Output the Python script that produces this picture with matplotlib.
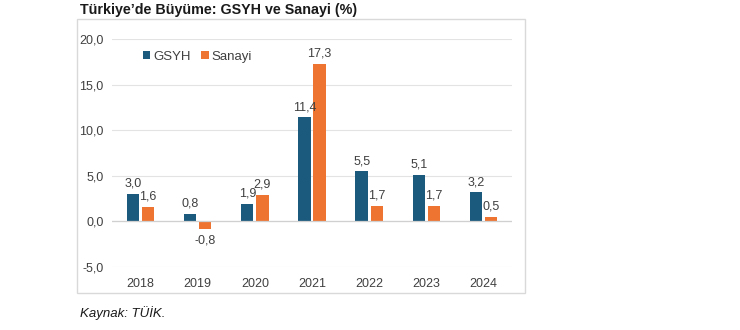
import matplotlib.pyplot as plt
import matplotlib.patches as patches
import numpy as np

plt.rcParams['font.family'] = ['Liberation Sans', 'DejaVu Sans']

years = ["2018", "2019", "2020", "2021", "2022", "2023", "2024"]
gsyh = [3.0, 0.8, 1.9, 11.4, 5.5, 5.1, 3.2]
sanayi = [1.6, -0.8, 2.9, 17.3, 1.7, 1.7, 0.5]

colGsyh = "#1c5a7d"
colSanayi = "#ed7431"

fig = plt.figure(figsize=(7.4, 3.3), dpi=100)
ax = fig.add_axes([0.1514, 0.1909, 0.5405, 0.6909])

x = np.arange(len(years))
w = 0.215
gap = 0.05
b1 = ax.bar(x - (w + gap) / 2, gsyh, w, color=colGsyh, label="GSYH")
b2 = ax.bar(x + (w + gap) / 2, sanayi, w, color=colSanayi, label="Sanayi")

def fmt(v):
    return ("%.1f" % v).replace(".", ",")

for bars, vals in [(b1, gsyh), (b2, sanayi)]:
    for r, v in zip(bars, vals):
        if v >= 0:
            ax.annotate(fmt(v), (r.get_x() + r.get_width() / 2, v), xytext=(0, 3),
                        textcoords="offset points", ha="center", va="bottom",
                        fontsize=9, color="#404040")
        else:
            ax.annotate(fmt(v), (r.get_x() + r.get_width() / 2, v), xytext=(0, -4),
                        textcoords="offset points", ha="center", va="top",
                        fontsize=9, color="#404040")

ax.set_ylim(-5, 20)
ax.set_xlim(-0.5, len(years) - 0.5)
ax.set_yticks([-5, 0, 5, 10, 15, 20])
ax.set_yticklabels([fmt(v) for v in [-5, 0, 5, 10, 15, 20]])
ax.set_xticks(x)
ax.set_xticklabels(years)
ax.tick_params(length=0, labelsize=9, colors="#404040")
ax.tick_params(axis="y", pad=6)
ax.tick_params(axis="x", pad=8)
ax.grid(axis="y", color="#e3e3e3", linewidth=0.8)
ax.axhline(0, color="#d0d0d0", linewidth=0.9, zorder=1)
ax.set_axisbelow(True)
for s in ax.spines.values():
    s.set_visible(False)

ax.legend(loc="upper left", bbox_to_anchor=(0.047, 1.0), ncol=2, frameon=False,
          fontsize=9.5, handlelength=0.55, handleheight=0.55, handletextpad=0.25,
          columnspacing=0.8, labelcolor="#404040")

# chart border
fig.patches.append(patches.Rectangle((77 / 740, 1 - 293 / 330), 448 / 740, 274 / 330,
                                     transform=fig.transFigure, fill=False,
                                     edgecolor="#d9d9d9", linewidth=1))

fig.text(80 / 740, 1 - 10 / 330, "Türkiye’de Büyüme: GSYH ve Sanayi (%)",
         fontsize=10.3, fontweight="bold", va="center", ha="left", color="#1a1a1a")
fig.text(80 / 740, 1 - 313 / 330, "Kaynak: TÜİK.", fontsize=9.5, style="italic",
         va="center", ha="left", color="#1a1a1a")

fig.savefig("out.png", dpi=100)
